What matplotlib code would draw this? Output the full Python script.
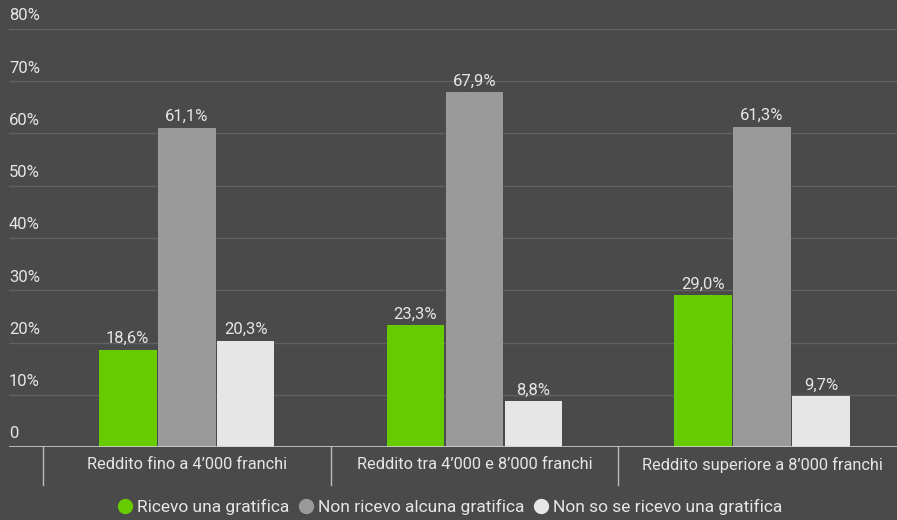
import numpy as np
import matplotlib.pyplot as plt
from matplotlib.lines import Line2D
from matplotlib.transforms import blended_transform_factory

plt.rcParams['font.family'] = ['Roboto', 'DejaVu Sans']

# ------------------------------------------------------------
# Data
# ------------------------------------------------------------
categories = ["Reddito fino a 4’000 franchi",
              "Reddito tra 4’000 e 8’000 franchi",
              "Reddito superiore a 8’000 franchi"]
series_names = ["Ricevo una gratifica",
                "Non ricevo alcuna gratifica",
                "Non so se ricevo una gratifica"]
ricevo = [18.6, 23.3, 29.0]
non_ricevo = [61.1, 67.9, 61.3]
non_so = [20.3, 8.8, 9.7]
y_ticks = [0, 10, 20, 30, 40, 50, 60, 70, 80]
y_tick_labels = ["0", "10%", "20%", "30%", "40%", "50%", "60%", "70%", "80%"]

# ------------------------------------------------------------
# Style
# ------------------------------------------------------------
bg = "#4a4a4a"
text_col = "#e6e6e6"
grid_col = "#626262"
colors = ["#66cc00", "#9a9a9a", "#e6e6e6"]

fig = plt.figure(figsize=(8.97, 5.2), dpi=100, facecolor=bg)
ax = fig.add_axes([0.01, 1 - 447 / 520, 0.99, (447 - 29) / 520])
ax.set_facecolor(bg)

x = np.arange(len(categories))
width = 0.2
offsets = [-0.205, 0.0, 0.205]

for vals, off, col in zip([ricevo, non_ricevo, non_so], offsets, colors):
    bars = ax.bar(x + off, vals, width=width, color=col, zorder=3)
    for b, v in zip(bars, vals):
        ax.text(b.get_x() + b.get_width() / 2, v + 0.7,
                f"{v:.1f}%".replace(".", ","), ha="center", va="bottom",
                color=text_col, fontsize=12)

ax.set_xlim(-0.618, 2.469)
ax.set_ylim(0, 80)

# gridlines and y labels
trans = blended_transform_factory(ax.transAxes, ax.transData)
for t, lab in zip(y_ticks, y_tick_labels):
    if t > 0:
        ax.axhline(t, color=grid_col, lw=1, zorder=1)
    ax.text(0.0, t + 1.1, lab, transform=trans, ha="left", va="bottom",
            color=text_col, fontsize=12)
ax.axhline(0, color="#d0d0d0", lw=1.2, zorder=4)

for s in ax.spines.values():
    s.set_visible(False)
ax.set_xticks([])
ax.set_yticks([])

# category labels and separators
for i, c in enumerate(categories):
    ax.text(i, -1.9, c, ha="center", va="top", color=text_col, fontsize=11.8,
            clip_on=False)
for sep in [-0.5, 0.5, 1.5, 2.5]:
    ax.plot([sep, sep], [0, -7.2], color="#bdbdbd", lw=1, clip_on=False)

# legend
handles = [Line2D([], [], marker="o", ls="", markersize=10,
                  markerfacecolor=c, markeredgecolor=c) for c in colors]
leg = fig.legend(handles, series_names, loc="lower center",
                 bbox_to_anchor=(0.5, -0.02), ncol=3, frameon=False,
                 fontsize=12.5, handletextpad=0.05, columnspacing=0.4,
                 handlelength=1.2)
for t in leg.get_texts():
    t.set_color(text_col)

fig.savefig("out.png", dpi=100, facecolor=bg)
